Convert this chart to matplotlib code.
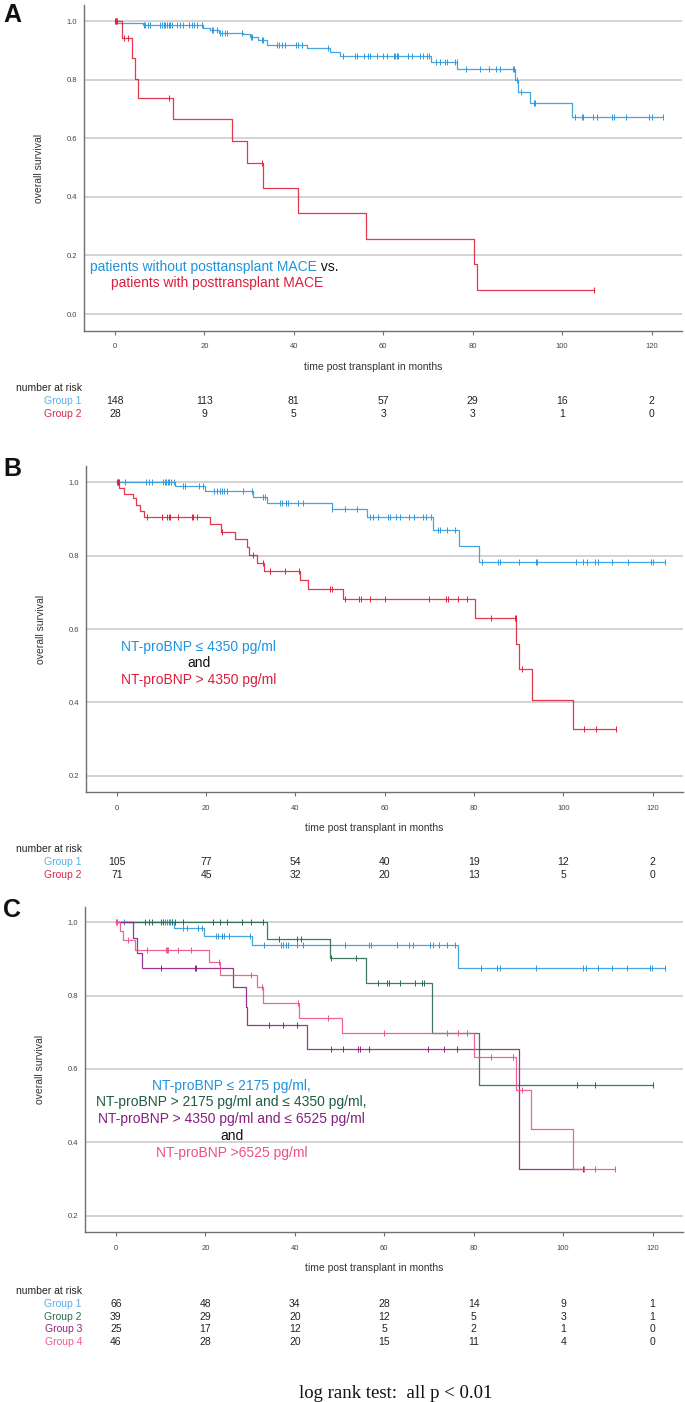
import numpy as np
import matplotlib
matplotlib.use("Agg")
import matplotlib.pyplot as plt
from matplotlib import transforms

plt.rcParams['font.family'] = ['Liberation Sans', 'DejaVu Sans']

W, H = 685, 1402

# colours
BLUE = '#329ade'
RED = '#e0233c'
GREEN = '#2b6b4c'
PURPLE = '#8b2283'
PINK = '#f0528f'
LBLUE = '#5aaee6'
GRID = '#c8c8c8'

risk_times = [0, 20, 40, 60, 80, 100, 120]

# ---------------- panel A ----------------
A1_t = [0.3, 6.4, 19.8, 21.3, 23.2, 28.7, 30.2, 32.1, 34.0, 42.9, 48.1, 50.3,
        70.6, 76.6, 89.5, 90.2, 92.8, 102.1]
A1_s = [0.993, 0.986, 0.977, 0.969, 0.961, 0.956, 0.947, 0.935, 0.920, 0.907,
        0.895, 0.882, 0.859, 0.835, 0.799, 0.759, 0.719, 0.671]
A1_c = [6.6, 6.8, 7.5, 7.9, 10.1, 10.5, 10.9, 11.2, 11.6, 12.0, 12.4, 12.7, 13.8,
        14.6, 15.3, 16.5, 17.2, 17.6, 18.3, 19.4, 21.7, 22.0, 22.8, 23.5, 23.9,
        24.6, 25.0, 28.4, 30.4, 30.6, 32.8, 33.2, 36.2, 36.6, 37.3, 38.1, 40.6,
        41.0, 41.8, 47.7, 51.1, 53.7, 54.1, 55.6, 56.7, 57.0, 58.5, 60.0, 60.8,
        62.3, 62.6, 63.0, 63.4, 65.6, 66.4, 68.2, 69.0, 69.7, 70.3, 71.9, 72.7,
        73.8, 74.2, 76.0, 76.4, 78.5, 81.6, 83.7, 85.2, 86.0, 89.0, 89.2, 89.8,
        90.7, 93.7, 94.0, 102.9, 104.4, 104.7, 107.0, 107.7, 111.2, 111.6, 114.3,
        119.5, 120.0, 122.6]
A2_t = [1.7, 3.9, 4.4, 5.1, 13.0, 26.3, 29.5, 33.2, 41.0, 56.1, 80.2, 81.0]
A2_s = [0.941, 0.873, 0.804, 0.738, 0.666, 0.589, 0.515, 0.429, 0.344, 0.256,
        0.170, 0.083]
A2_c = [0.1, 0.2, 0.3, 0.4, 2.1, 2.9, 12.0, 32.8, 107.2]
A_risk1 = [148, 113, 81, 57, 29, 16, 2]
A_risk2 = [28, 9, 5, 3, 3, 1, 0]

# ---------------- panel B ----------------
B1_t = [13.0, 19.8, 30.6, 33.7, 48.1, 56.1, 70.7, 76.7, 81.1]
B1_s = [0.989, 0.976, 0.959, 0.944, 0.926, 0.904, 0.869, 0.826, 0.783]
B1_c = [1.9, 6.6, 7.1, 7.8, 10.3, 10.7, 11.0, 11.4, 11.8, 12.2, 12.7, 14.8, 15.3,
        18.3, 19.4, 21.8, 22.4, 23.0, 23.5, 23.9, 24.6, 28.3, 30.2, 32.8, 33.2,
        36.5, 36.9, 38.0, 38.4, 40.6, 41.8, 48.3, 51.1, 53.9, 56.7, 57.4, 58.5,
        60.8, 61.2, 62.6, 63.4, 65.5, 66.5, 68.5, 69.2, 70.3, 71.9, 72.3, 74.0,
        75.7, 81.7, 85.4, 85.9, 90.0, 93.8, 94.1, 102.9, 104.4, 105.2, 107.0,
        107.8, 110.9, 114.4, 119.6, 120.1, 122.7]
B2_t = [0.6, 1.5, 3.6, 4.3, 5.1, 6.2, 20.9, 23.3, 26.5, 29.1, 29.5, 31.5, 33.0,
        41.0, 42.9, 50.7, 80.3, 89.4, 90.1, 93.0, 102.2]
B2_s = [0.985, 0.969, 0.956, 0.937, 0.921, 0.906, 0.885, 0.865, 0.845, 0.824,
        0.801, 0.780, 0.759, 0.733, 0.708, 0.681, 0.629, 0.558, 0.490, 0.407, 0.327]
B2_c = [0.1, 0.2, 0.3, 0.4, 6.7, 10.1, 11.2, 11.6, 11.9, 13.8, 16.8, 17.1, 17.9,
        23.5, 30.4, 32.7, 34.3, 37.7, 40.9, 47.7, 48.1, 51.0, 54.3, 54.6, 56.7,
        60.0, 69.9, 73.7, 74.1, 76.5, 78.5, 83.9, 89.2, 89.3, 90.8, 104.6, 107.4,
        111.9]
B_risk1 = [105, 77, 54, 40, 19, 12, 2]
B_risk2 = [71, 45, 32, 20, 13, 5, 0]

# ---------------- panel C ----------------
C1_t = [13.0, 19.6, 30.5, 76.6]
C1_s = [0.983, 0.962, 0.937, 0.874]
C1_c = [1.8, 11.0, 11.4, 11.8, 12.2, 12.6, 15.1, 15.9, 18.4, 19.2, 22.5, 22.9,
        23.7, 24.1, 25.4, 29.9, 33.2, 36.9, 37.3, 38.1, 38.5, 40.6, 41.8, 51.3,
        56.6, 57.0, 62.8, 65.6, 66.5, 70.2, 71.0, 72.2, 74.1, 75.9, 81.6, 85.3,
        85.9, 93.9, 104.5, 105.2, 107.8, 110.9, 114.3, 119.4, 119.8, 122.7]
C2_t = [33.8, 47.9, 56.0, 70.7, 81.1]
C2_s = [0.953, 0.901, 0.835, 0.697, 0.556]
C2_c = [6.5, 7.3, 8.1, 10.2, 10.6, 12.6, 13.3, 15.1, 21.7, 23.3, 24.9, 28.2,
        30.3, 32.8, 36.5, 40.6, 41.4, 48.1, 53.7, 58.7, 60.7, 61.1, 63.6, 66.9,
        68.4, 68.9, 90.1, 103.0, 107.1, 120.1]
C3_t = [3.75, 4.8, 5.9, 26.2, 29.0, 29.4, 42.8, 90.1]
C3_s = [0.956, 0.915, 0.874, 0.822, 0.770, 0.719, 0.654, 0.327]
C3_c = [10.2, 17.7, 18.0, 34.3, 37.4, 40.6, 48.2, 50.7, 54.2, 54.5, 56.6, 69.8,
        73.4, 76.2, 104.5]
C4_t = [1.0, 1.6, 4.2, 20.9, 23.2, 31.6, 32.9, 40.9, 50.5, 80.1, 89.4, 92.8, 102.1]
C4_s = [0.976, 0.951, 0.924, 0.892, 0.856, 0.822, 0.780, 0.740, 0.697, 0.633,
        0.543, 0.436, 0.327]
C4_c = [0.1, 0.2, 0.3, 2.8, 6.9, 11.3, 11.5, 11.7, 14.0, 16.9, 23.1, 30.3, 32.7,
        40.8, 47.5, 59.9, 74.1, 76.4, 78.4, 83.8, 88.7, 88.9, 90.7, 104.6, 107.1,
        111.6]
C_risk = [[66, 48, 34, 28, 14, 9, 1],
          [39, 29, 20, 12, 5, 3, 1],
          [25, 17, 12, 5, 2, 1, 0],
          [46, 28, 20, 15, 11, 4, 0]]


def add_panel(fig, left, top, right, bottom):
    return fig.add_axes([left / W, 1 - bottom / H, (right - left) / W, (bottom - top) / H])


def km(ax, t, s, c, color):
    t = np.asarray(t)
    s = np.asarray(s)
    c = np.asarray(c)
    end = max(t.max(), c.max())
    x = np.r_[0, t, end]
    y = np.r_[1.0, s, s[-1]]
    ax.step(x, y, where='post', color=color, lw=0.9, alpha=0.9)
    cy = np.r_[1.0, s][np.searchsorted(t, c, side='right')]
    ax.plot(c, cy, ls='none', marker='|', ms=4.5, mew=0.7, color=color)


def style(ax, ylim, yticks):
    ax.set_xlim(-6.9, 126.8)
    ax.set_ylim(*ylim)
    ax.set_yticks(yticks)
    ax.set_yticklabels([f"{v:.1f}" for v in yticks])
    ax.set_xticks(risk_times)
    ax.grid(axis='y', color=GRID, lw=1.1)
    ax.set_axisbelow(True)
    for sp in ['top', 'right']:
        ax.spines[sp].set_visible(False)
    for sp in ['left', 'bottom']:
        ax.spines[sp].set_color('#707070')
        ax.spines[sp].set_linewidth(1.0)
    ax.tick_params(axis='y', length=0, pad=5, labelsize=5.5, labelcolor='#444444')
    ax.tick_params(axis='x', length=3, width=0.8, color='#707070', pad=6,
                   labelsize=5.5, labelcolor='#444444')
    ax.set_ylabel("overall survival", fontsize=7.5, color='#333333')
    ax.yaxis.set_label_coords(-0.067, 0.5)
    ax.set_xlabel("time post transplant in months", fontsize=7.5, color='#333333')
    ax.xaxis.set_label_coords(0.483, -0.095)


def risk_table(fig, ax, y_head, rows, labels, colors, step=13.0):
    tr = transforms.blended_transform_factory(ax.transData, fig.transFigure)
    fig.text(16 / W, 1 - y_head / H, "number at risk", fontsize=7.5, va='center',
             ha='left', color='#222222')
    for i, (vals, lab, col) in enumerate(zip(rows, labels, colors)):
        yy = 1 - (y_head + step * (i + 1)) / H
        fig.text(82 / W, yy, lab, fontsize=7.5, va='center', ha='right', color=col)
        for tt, v in zip(risk_times, vals):
            ax.text(tt, yy, str(v), transform=tr, fontsize=7.5, va='center',
                    ha='center', color='#222222')


fig = plt.figure(figsize=(W / 100, H / 100), dpi=100)

# A
axA = add_panel(fig, 84, 5, 682, 331)
style(axA, (-0.058, 1.055), [0.0, 0.2, 0.4, 0.6, 0.8, 1.0])
km(axA, A1_t, A1_s, A1_c, BLUE)
km(axA, A2_t, A2_s, A2_c, RED)
txt = axA.text(-5.5, 0.160, "patients without posttansplant MACE", color='#1f93dc',
               fontsize=10, ha='left', va='center')
axA.annotate(" vs.", xy=(1, 0), xycoords=txt, fontsize=10, ha='left', va='bottom',
             color='#111111')
axA.text(-0.9, 0.106, "patients with posttransplant MACE", color='#dc1e3c',
         fontsize=10, ha='left', va='center')
risk_table(fig, axA, 388, [A_risk1, A_risk2], ["Group 1", "Group 2"], [LBLUE, '#d72a4f'])

# B
axB = add_panel(fig, 86, 466, 683, 792)
style(axB, (0.156, 1.044), [0.2, 0.4, 0.6, 0.8, 1.0])
km(axB, B1_t, B1_s, B1_c, BLUE)
km(axB, B2_t, B2_s, B2_c, RED)
axB.text(18.4, 0.552, "NT-proBNP \u2264 4350 pg/ml", color='#1f93dc', fontsize=10,
         ha='center', va='center')
axB.text(18.4, 0.507, "and", color='#111111', fontsize=10, ha='center', va='center')
axB.text(18.4, 0.461, "NT-proBNP > 4350 pg/ml", color='#dc1e3c', fontsize=10,
         ha='center', va='center')
risk_table(fig, axB, 849, [B_risk1, B_risk2], ["Group 1", "Group 2"], [LBLUE, '#d72a4f'])

# C
axC = add_panel(fig, 85, 907, 683, 1232)
style(axC, (0.156, 1.041), [0.2, 0.4, 0.6, 0.8, 1.0])
km(axC, C1_t, C1_s, C1_c, BLUE)
km(axC, C2_t, C2_s, C2_c, GREEN)
km(axC, C3_t, C3_s, C3_c, PURPLE)
km(axC, C4_t, C4_s, C4_c, PINK)
c_lines = ["NT-proBNP \u2264 2175 pg/ml,",
           "NT-proBNP > 2175 pg/ml and \u2264 4350 pg/ml,",
           "NT-proBNP > 4350 pg/ml and \u2264 6525 pg/ml",
           "and",
           "NT-proBNP >6525 pg/ml"]
c_cols = ['#1f93dc', '#1f5c40', '#86207e', '#111111', '#ee4f8c']
c_y = [0.554, 0.509, 0.464, 0.418, 0.372]
for s_, col, yy in zip(c_lines, c_cols, c_y):
    axC.text(25.9, yy, s_, color=col, fontsize=10, ha='center', va='center')
risk_table(fig, axC, 1291, C_risk, ["Group 1", "Group 2", "Group 3", "Group 4"],
           [LBLUE, '#2e6b50', '#8b2283', '#ef5b93'], step=12.8)

# panel letters
for lab, y in [("A", 3), ("B", 457), ("C", 898)]:
    fig.text(3 / W, 1 - y / H, lab, fontsize=18, fontweight='bold', va='top',
             ha='left', color='#111111')

fig.text(396 / W, 1 - 1393 / H, "log rank test:  all p < 0.01", fontsize=13.5,
         family=['Liberation Serif', 'DejaVu Serif'], ha='center', va='center',
         color='#111111')

fig.savefig("out.png", dpi=100)
